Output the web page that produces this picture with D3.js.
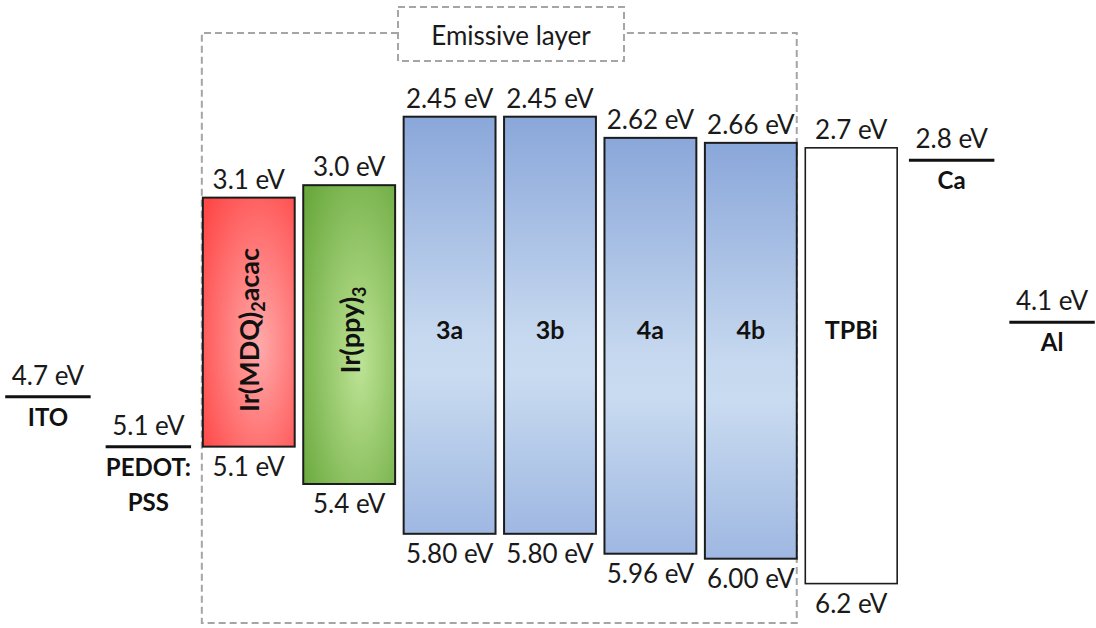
<!DOCTYPE html>
<html>
<head>
<meta charset="utf-8">
<script src="https://cdn.jsdelivr.net/npm/d3@7/dist/d3.min.js"></script>
<style>
  html, body { margin: 0; padding: 0; background: #ffffff; }
  svg { display: block; font-family: "Lato", "Open Sans", sans-serif; }
</style>
</head>
<body>
<script>
// Energy levels (eV, below vacuum) of the device stack
const layers      = ["Ir(MDQ)2acac", "Ir(ppy)3", "3a", "3b", "4a", "4b", "TPBi"];
const lumo        = [3.1, 3.0, 2.45, 2.45, 2.62, 2.66, 2.7];
const homo        = [5.1, 5.4, 5.80, 5.80, 5.96, 6.00, 6.2];
const lumoLabels  = ["3.1 eV", "3.0 eV", "2.45 eV", "2.45 eV", "2.62 eV", "2.66 eV", "2.7 eV"];
const homoLabels  = ["5.1 eV", "5.4 eV", "5.80 eV", "5.80 eV", "5.96 eV", "6.00 eV", "6.2 eV"];

const anodes      = ["ITO", "PEDOT:PSS"];
const cathodes    = ["Ca", "Al"];
const electrodes  = ["ITO", "PEDOT:PSS", "Ca", "Al"];
const workFn      = [4.7, 5.1, 2.8, 4.1];
const workFnLabels= ["4.7 eV", "5.1 eV", "2.8 eV", "4.1 eV"];
const electrodeText = [["ITO"], ["PEDOT:", "PSS"], ["Ca"], ["Al"]];

const groupTitle  = "Emissive layer";

const W = 1096, H = 628;
const svg = d3.select("body").append("svg").attr("width", W).attr("height", H);

// Stack order left to right
const slots = [...anodes, ...layers, ...cathodes];
const x = d3.scaleBand().domain(slots).range([2, 1098]).paddingInner(0.085).paddingOuter(0);
const y = d3.scaleLinear().domain([2.45, 6.2]).range([116.7, 583.6]);
const bw = x.bandwidth();
const labelMidY = 330;

// Fills
const defs = svg.append("defs");
function radial(id, inner, outer) {
  const g = defs.append("radialGradient").attr("id", id)
    .attr("cx", 0.6).attr("cy", 0.55).attr("r", 0.75).attr("fx", 0.62).attr("fy", 0.6);
  g.append("stop").attr("offset", "0%").attr("stop-color", inner);
  g.append("stop").attr("offset", "100%").attr("stop-color", outer);
}
radial("fillRed", "#ffa9a9", "#ff4848");
radial("fillGreen", "#bde394", "#6aa93e");
const blue = defs.append("linearGradient").attr("id", "fillBlue")
  .attr("x1", 0).attr("y1", 0).attr("x2", 0).attr("y2", 1);
[["0%", "#8aa7da"], ["52%", "#c6d8ef"], ["62%", "#c9dbf0"], ["100%", "#9fb8e2"]]
  .forEach(([o, c]) => blue.append("stop").attr("offset", o).attr("stop-color", c));

const fillOf = name => name.startsWith("Ir(MDQ)") ? "url(#fillRed)"
  : name.startsWith("Ir(ppy)") ? "url(#fillGreen)"
  : name === "TPBi" ? "#ffffff" : "url(#fillBlue)";

// Emissive layer dashed frame
const boxL = x(layers[0]) - 1, boxR = x(layers[5]) + bw;
const boxT = 33, boxB = 623;
const tL = 398, tR = 624, tT = 7, tB = 61;
const dash = { stroke: "#a5a5a5", "stroke-width": 2, "stroke-dasharray": "7,4", fill: "none" };
function dashed(d) {
  const p = svg.append("path").attr("d", d);
  Object.entries(dash).forEach(([k, v]) => p.attr(k, v));
}
dashed(`M${tL},${boxT} H${boxL} V${boxB} H${boxR} V${boxT} H${tR}`);
dashed(`M${tL},${tT} H${tR} V${tB} H${tL} Z`);
svg.append("text").attr("x", (tL + tR) / 2).attr("y", 45)
  .attr("text-anchor", "middle").attr("font-size", 26).attr("fill", "#1a1a1a")
  .text(groupTitle);

// Layer bars
const data = layers.map((name, i) => ({ name, lumo: lumo[i], homo: homo[i], top: lumoLabels[i], bot: homoLabels[i] }));
const bars = svg.append("g").selectAll("g").data(data).join("g");
bars.append("rect")
  .attr("x", d => x(d.name)).attr("width", bw)
  .attr("y", d => y(d.lumo)).attr("height", d => y(d.homo) - y(d.lumo))
  .attr("fill", d => fillOf(d.name))
  .attr("stroke", "#1c1c1c").attr("stroke-width", d => d.name === "TPBi" ? 1.6 : 2);

// Energy values above and below each bar
bars.append("text").attr("x", d => x(d.name) + bw / 2).attr("y", d => y(d.lumo) - 9)
  .attr("text-anchor", "middle").attr("font-size", 26).attr("fill", "#1a1a1a").text(d => d.top);
bars.append("text").attr("x", d => x(d.name) + bw / 2).attr("y", d => y(d.homo) + 29)
  .attr("text-anchor", "middle").attr("font-size", 26).attr("fill", "#1a1a1a").text(d => d.bot);

// Names: complexes written vertically with subscripts, the rest horizontally
const subShift = 6;
bars.each(function (d) {
  const g = d3.select(this);
  const cx = x(d.name) + bw / 2;
  const m = d.name.match(/^(.*\))(\d)(.*)$/);
  if (m) {
    const t = g.append("text")
      .attr("transform", `translate(${cx + 1},${labelMidY}) rotate(-90)`)
      .attr("text-anchor", "middle")
      .attr("font-size", 27).attr("font-weight", 700).attr("fill", "#111");
    t.append("tspan").attr("dy", 9.5).text(m[1]);
    t.append("tspan").attr("font-size", 18).attr("dy", subShift).text(m[2]);
    if (m[3]) t.append("tspan").attr("dy", -subShift).text(m[3]);
  } else {
    g.append("text").attr("x", cx).attr("y", labelMidY).attr("dy", "0.36em")
      .attr("text-anchor", "middle").attr("font-size", 25).attr("font-weight", 700)
      .attr("fill", "#111").text(d.name);
  }
});

// Electrode work functions
const eData = electrodes.map((name, i) => ({ name, e: workFn[i], label: workFnLabels[i], lines: electrodeText[i] }));
const eg = svg.append("g").selectAll("g").data(eData).join("g");
const lw = bw * 0.93;
eg.append("line")
  .attr("x1", d => x(d.name) + (bw - lw) / 2).attr("x2", d => x(d.name) + (bw + lw) / 2)
  .attr("y1", d => y(d.e)).attr("y2", d => y(d.e))
  .attr("stroke", "#111").attr("stroke-width", 3);
eg.append("text").attr("x", d => x(d.name) + bw / 2).attr("y", d => y(d.e) - 12)
  .attr("text-anchor", "middle").attr("font-size", 26).attr("fill", "#1a1a1a").text(d => d.label);
eg.each(function (d) {
  const g = d3.select(this);
  d.lines.forEach((ln, k) => {
    g.append("text").attr("x", x(d.name) + bw / 2).attr("y", y(d.e) + 29 + k * 35)
      .attr("text-anchor", "middle").attr("font-size", 24).attr("font-weight", 700)
      .attr("fill", "#111").text(ln);
  });
});
</script>
</body>
</html>
